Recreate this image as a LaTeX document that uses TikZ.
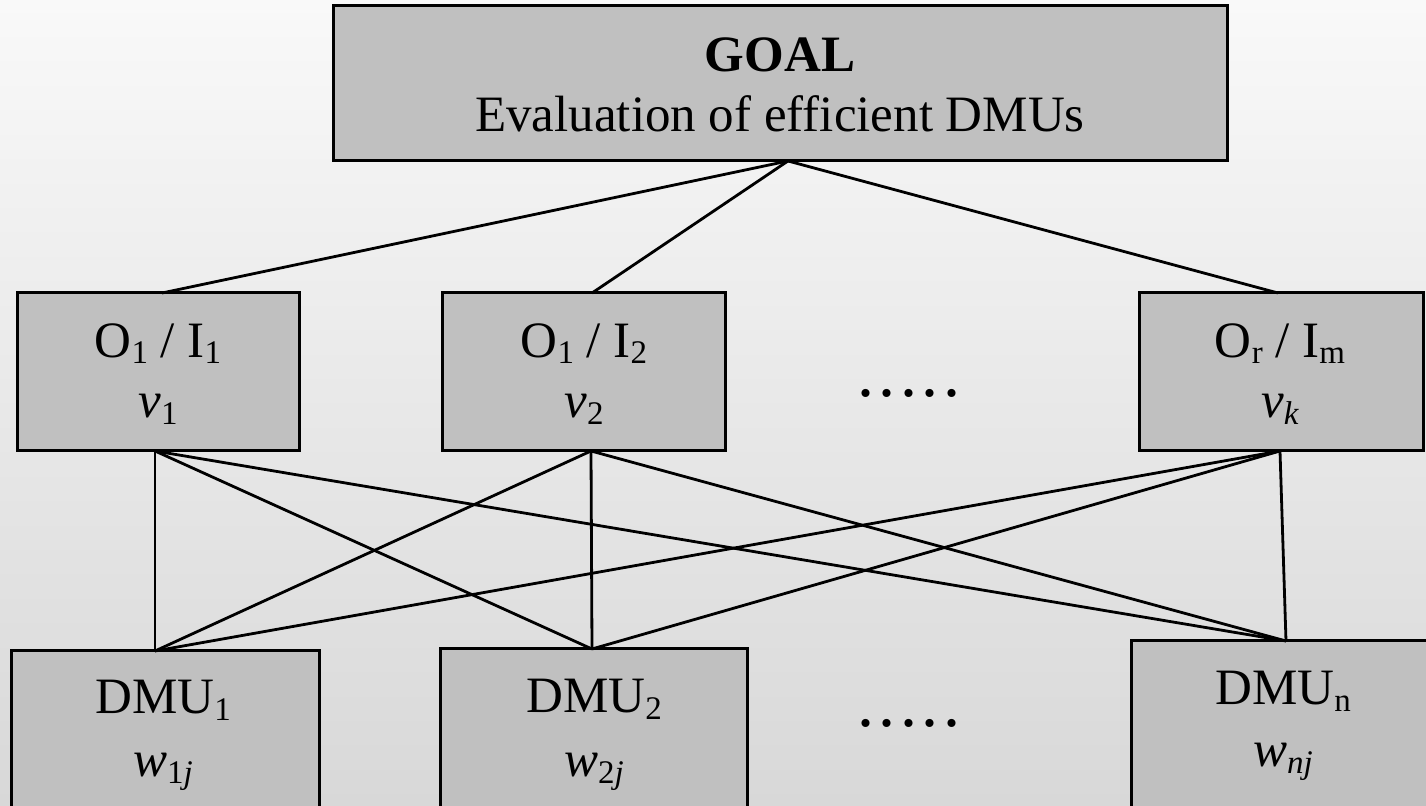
\documentclass[tikz,border=0pt]{standalone}
\usepackage{fontspec}
\setmainfont{Liberation Serif}
\usetikzlibrary{calc}
\definecolor{boxfill}{HTML}{C0C0C0}
\definecolor{bgtop}{HTML}{F9F9F9}
\definecolor{bgbot}{HTML}{D8D8D8}
\newcommand\lsub[1]{\raisebox{-3pt}{\fontsize{16.5}{16.5}\selectfont #1}}
\newcommand\lsubm[1]{\raisebox{-3.5pt}{\fontsize{16.5}{16.5}\selectfont #1}}
\tikzset{
  box/.style={draw=black, line width=1.5pt, fill=boxfill, rectangle, inner sep=0pt, outer sep=0pt},
  txt/.style={anchor=base, inner sep=0pt, font=\fontsize{25.5}{30}\selectfont},
  dotstxt/.style={anchor=base, inner sep=0pt, font=\fontsize{34}{34}\selectfont},
  conn/.style={draw=black, line width=1.4pt},
}
\begin{document}
\begin{tikzpicture}[x=0.5pt,y=-0.5pt]
\clip (0,0) rectangle (1426,806);
\shade[top color=bgtop, bottom color=bgbot] (0,0) rectangle (1426,806);

% boxes
\node[box, minimum width=447pt, minimum height=77.5pt] (goal) at (780,83.5) {};
\node[box, minimum width=141pt, minimum height=79pt] (b1) at (158,372) {};
\node[box, minimum width=141.5pt, minimum height=79pt] (b2) at (583.5,372) {};
\node[box, minimum width=142pt, minimum height=79pt] (b3) at (1281,372) {};
\node[box, minimum width=154pt, minimum height=89.5pt] (d1) at (165,740.5) {};
\node[box, minimum width=153.5pt, minimum height=90.5pt] (d2) at (593.5,739.5) {};
\node[box, minimum width=152pt, minimum height=94.5pt] (dn) at (1283,735.5) {};

% texts
\node[txt] (goalT) at (780,72) {\textbf{GOAL}};
\node[txt] (goalS) at (780,132) {Evaluation of efficient DMUs};
\node[txt] (b1a) at (158,358) {O\lsub{1} / I\lsub{1}};
\node[txt] (b1b) at (158,418) {\textit{v}\lsubm{1}};
\node[txt] (b2a) at (584,358) {O\lsub{1} / I\lsub{2}};
\node[txt] (b2b) at (584,418) {\textit{v}\lsubm{2}};
\node[txt] (b3a) at (1280,358) {O\lsub{r} / I\lsub{m}};
\node[txt] (b3b) at (1280,418) {\textit{v}\lsubm{\textit{k}}};
\node[txt] (d1a) at (163,714) {DMU\lsubm{1}};
\node[txt] (d1b) at (163,777) {\textit{w}\lsubm{1\textit{j}}};
\node[txt] (d2a) at (594,713) {DMU\lsubm{2}};
\node[txt] (d2b) at (594,777) {\textit{w}\lsubm{2\textit{j}}};
\node[txt] (dna) at (1283,705) {DMU\lsubm{n}};
\node[txt] (dnb) at (1283,767) {\textit{w}\lsubm{\textit{nj}}};
\node[dotstxt] (dots1) at (909,397) {.\kern2.25pt.\kern2.25pt.\kern2.25pt.\kern2.25pt.};
\node[dotstxt] (dots2) at (909,727) {.\kern2.25pt.\kern2.25pt.\kern2.25pt.\kern2.25pt.};

% attachment points
\coordinate (gb) at ($(goal.south)+(8,0)$);
\coordinate (b1t) at ($(b1.north)+(4,0)$);
\coordinate (b2t) at ($(b2.north)+(8.5,0)$);
\coordinate (b3t) at ($(b3.north)+(-3,0)$);
\coordinate (b1s) at ($(b1.south)+(-3,0)$);
\coordinate (b2s) at ($(b2.south)+(7.5,0)$);
\coordinate (b3s) at ($(b3.south)+(-1,0)$);
\coordinate (d1t) at ($(d1.north)+(-10,0)$);
\coordinate (d2t) at ($(d2.north)+(-1.5,0)$);
\coordinate (dnt) at ($(dn.north)+(3,0)$);

% connectors
\draw[conn] (gb) -- (b1t);
\draw[conn] (gb) -- (b2t);
\draw[conn] (gb) -- (b3t);
\foreach \s in {b1s,b2s,b3s}{
  \foreach \t in {d1t,d2t,dnt}{
    \draw[conn] (\s) -- (\t);
  }
}
\end{tikzpicture}
\end{document}
